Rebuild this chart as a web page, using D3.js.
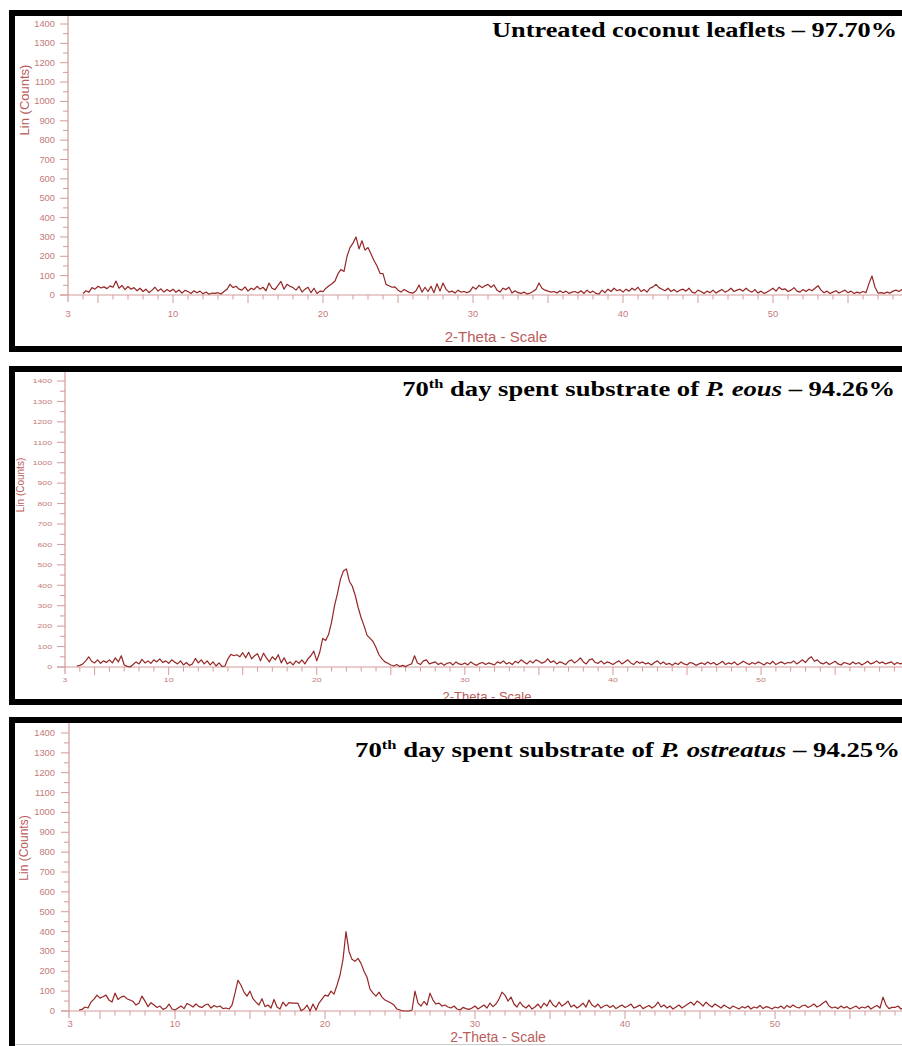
<!DOCTYPE html>
<html>
<head>
<meta charset="utf-8">
<script src="https://cdn.jsdelivr.net/npm/d3@7"></script>
<style>
  body { margin: 0; background: #fff; }
  svg { display: block; }
</style>
</head>
<body>
<script>
// scan: 2-theta from 3.6 deg, 0.2 deg per reading
var scanStart = 3.6;
var scanStep = 0.2;

// Untreated coconut leaflets
var untreatedCounts = [null, null,
  8, 22, 15, 38, 30, 45, 36, 42, 33, 47,
  40, 72, 35, 50, 28, 44, 30, 38, 22, 35,
  18, 30, 12, 25, 40, 20, 32, 15, 28, 18,
  30, 14, 26, 10, 24, 18, 8, 22, 12, 20,
  6, 15, 4, 10, 8, 12, 5, 18, 30, 55,
  38, 45, 30, 25, 42, 20, 35, 28, 45, 30,
  40, 22, 62, 35, 28, 50, 70, 30, 55, 45,
  38, 25, 45, 15, 30, 40, 12, 35, 8, 20,
  17, 35, 48, 58, 72, 110, 132, 122, 200, 245,
  268, 300, 238, 280, 232, 245, 212, 178, 150, 112,
  110, 55, 48, 40, 42, 25, 15, 28, 20, 12,
  10, 22, 52, 15, 40, 18, 45, 12, 58, 20,
  62, 30, 15, 20, 10, 25, 15, 18, 12, 20,
  42, 30, 50, 38, 48, 55, 40, 52, 25, 15,
  35, 28, 40, 10, 22, 12, 8, 15, 5, 10,
  18, 30, 62, 35, 25, 20, 15, 18, 10, 22,
  12, 20, 8, 15, 18, 10, 22, 8, 25, 12,
  20, 8, 5, 25, 12, 30, 18, 35, 22, 28,
  15, 30, 20, 35, 25, 40, 18, 28, 15, 35,
  42, 55, 38, 30, 22, 35, 18, 28, 15, 25,
  30, 20, 35, 15, 10, 25, 18, 8, 20, 12,
  25, 10, 20, 28, 15, 22, 35, 18, 25, 30,
  20, 35, 22, 15, 28, 10, 20, 8, 15, 25,
  35, 20, 40, 28, 32, 18, 25, 38, 20, 15,
  28, 18, 30, 22, 35, 48, 25, 12, 20, 8,
  15, 22, 10, 18, 25, 12, 20, 8, 15, 10,
  18, 12, 60, 98, 40, 10, 12, 8, 15, 10,
  20, 25, 18, 28, 15, 22, 12, 20, 18
];

// 70th day spent substrate of P. eous
var eousCounts = [null, 5,
  8, 15, 30, 50, 28, 20, 35, 18, 30, 22,
  35, 20, 45, 25, 55, 10, 3, 0, 12, 25,
  15, 37, 20, 30, 18, 35, 25, 40, 22, 30,
  18, 35, 25, 15, 30, 10, 22, 8, 15, 42,
  20, 35, 15, 30, 10, 25, 5, 20, 3, 5,
  40, 62, 55, 60, 50, 70, 45, 72, 40, 55,
  65, 30, 68, 45, 25, 50, 35, 60, 20, 45,
  15, 25, 10, 30, 18, 35, 15, 40, 55, 78,
  30, 72, 140, 130, 160, 220, 300, 360, 430, 470,
  480, 420, 395, 350, 290, 240, 200, 155, 140, 125,
  95, 60, 40, 25, 18, 10, 5, 12, 3, 8,
  2, 10, 15, 55, 20, 12, 30, 35, 15, 20,
  25, 12, 20, 8, 18, 22, 10, 25, 15, 12,
  20, 10, 25, 15, 8, 18, 22, 12, 20, 15,
  10, 25, 18, 30, 15, 22, 12, 28, 20, 35,
  25, 15, 30, 20, 35, 28, 18, 25, 40, 22,
  30, 15, 25, 20, 12, 28, 35, 20, 30, 45,
  25, 15, 35, 40, 22, 18, 30, 15, 25, 20,
  12, 22, 30, 15, 25, 35, 20, 12, 28, 18,
  25, 15, 20, 10, 22, 30, 15, 25, 12, 18,
  8, 20, 12, 25, 15, 10, 22, 18, 8, 15,
  20, 12, 25, 15, 22, 10, 18, 28, 12, 20,
  15, 25, 10, 18, 28, 20, 12, 22, 15, 25,
  18, 10, 22, 15, 28, 12, 20, 25, 15, 22,
  20, 30, 15, 25, 35, 22, 40, 50, 28, 35,
  20, 15, 25, 12, 20, 28, 15, 10, 22, 18,
  12, 25, 15, 22, 10, 18, 28, 15, 20, 30,
  18, 25, 15, 20, 25, 12, 22, 15, 20
];

// 70th day spent substrate of P. ostreatus
var ostreatusCounts = [5, 8,
  20, 15, 45, 60, 80, 65, 72, 80, 55, 45,
  90, 58, 70, 75, 62, 55, 48, 30, 40, 75,
  50, 22, 42, 30, 18, 25, 8, 15, 35, 10,
  5, 15, 25, 12, 38, 30, 20, 35, 22, 18,
  30, 35, 15, 28, 20, 25, 12, 15, 10, 30,
  90, 155, 130, 95, 75, 100, 62, 45, 30, 62,
  22, 30, 15, 58, 20, 10, 45, 25, 42, 40,
  40, 38, 2, 10, 30, 0, 35, 5, 40, 60,
  80, 75, 100, 85, 130, 180, 260, 400, 300, 260,
  250, 265, 240, 200, 170, 110, 90, 75, 95, 70,
  55, 48, 40, 30, 10, 5, 0, 0, 0, 5,
  100, 40, 25, 48, 30, 90, 55, 35, 40, 25,
  30, 20, 15, 25, 10, 5, 18, 12, 8, 15,
  25, 10, 20, 30, 15, 40, 22, 35, 60, 95,
  80, 50, 70, 35, 20, 45, 25, 15, 30, 10,
  20, 35, 15, 40, 25, 55, 30, 20, 45, 25,
  35, 50, 20, 30, 15, 25, 40, 20, 55, 30,
  20, 35, 15, 25, 30, 18, 28, 12, 22, 30,
  18, 25, 35, 15, 22, 30, 12, 20, 28, 15,
  25, 45, 20, 30, 15, 25, 10, 20, 30, 15,
  25, 35, 45, 30, 50, 40, 25, 45, 30, 20,
  35, 25, 15, 30, 20, 12, 25, 18, 10, 22,
  15, 25, 10, 20, 15, 28, 12, 22, 18, 10,
  20, 15, 25, 12, 28, 18, 30, 20, 15, 25,
  30, 18, 25, 35, 20, 28, 40, 50, 25, 15,
  20, 12, 25, 15, 22, 10, 18, 25, 12, 20,
  15, 25, 10, 20, 28, 15, 70, 30, 12, 18,
  18, 25, 10, 20, 15, 22, 12, 18, 20
];

var seriesCounts = [untreatedCounts, eousCounts, ostreatusCounts];

// titles: [text, style] pieces
var titleParts = [
  [["Untreated coconut leaflets – 97.70%", ""]],
  [["70", ""], ["th", "sup"], [" day spent substrate of ", ""], ["P. eous", "it"], [" – 94.26%", ""]],
  [["70", ""], ["th", "sup"], [" day spent substrate of ", ""], ["P. ostreatus", "it"], [" – 94.25%", ""]]
];

var yTickLabels = [0, 100, 200, 300, 400, 500, 600, 700, 800, 900, 1000, 1100, 1200, 1300, 1400];
var xTickLabels = [3, 10, 20, 30, 40, 50];
var yAxisTitle = "Lin (Counts)";
var xAxisTitle = "2-Theta - Scale";

// page layout of the three stacked panels
var panels = [
  {top: 10, bottom: 352, axisX: 68, x3: 68, degPx: 15, y0: 295, y1400: 24,
   lblX: 55, lblFont: 8.5, lblSx: 1.1, xLblY: 317, linX: 29, linY: 100, linFont: 13,
   xTitleX: 496, xTitleY: 342, xTitleFont: 15, titleY: 37, titleRight: 897, titleW: 405},
  {top: 366, bottom: 705, axisX: 65, x3: 65, degPx: 14.81, y0: 667, y1400: 381,
   lblX: 52, lblFont: 6.2, lblSx: 1.4, xLblY: 682, linX: 24, linY: 485, linFont: 10,
   xTitleX: 487, xTitleY: 701, xTitleFont: 13, titleY: 396, titleRight: 895, titleW: 493},
  {top: 717, bottom: 1054, axisX: 69, x3: 70, degPx: 15, y0: 1011, y1400: 733,
   lblX: 55, lblFont: 8.5, lblSx: 1.1, xLblY: 1027, linX: 28, linY: 848, linFont: 12,
   xTitleX: 498, xTitleY: 1042, xTitleFont: 14, titleY: 757, titleRight: 900, titleW: 545}
];

var width = 902, height = 1046;
var axisColor = "#d49a9a";
var labelColor = "#c47a7a";
var titleColor = "#bb5c5c";
var curveColor = "#962626";

var svg = d3.select("body").append("svg")
    .attr("width", width)
    .attr("height", height);

panels.forEach(function(p, k) {

    var g = svg.append("g").attr("class", "panel-" + k);

    var x = d3.scaleLinear()
        .domain([3, 3 + (width - p.x3) / p.degPx])
        .range([p.x3, width]);

    var y = d3.scaleLinear()
        .domain([0, 1400])
        .range([p.y0, p.y1400]);

    // y axis
    g.append("line")
        .attr("x1", p.axisX).attr("x2", p.axisX)
        .attr("y1", p.top + 6).attr("y2", p.y0 + 7)
        .attr("stroke", axisColor).attr("stroke-width", 1.2);

    var yMinor = d3.range(50, 1400, 100);
    g.selectAll(".ymin").data(yMinor).enter().append("line")
        .attr("x1", p.axisX - 5).attr("x2", p.axisX)
        .attr("y1", function(d) { return y(d); })
        .attr("y2", function(d) { return y(d); })
        .attr("stroke", axisColor);

    g.selectAll(".ymaj").data(yTickLabels).enter().append("line")
        .attr("x1", p.axisX - 8).attr("x2", p.axisX)
        .attr("y1", function(d) { return y(d); })
        .attr("y2", function(d) { return y(d); })
        .attr("stroke", axisColor);

    g.selectAll(".ylbl").data(yTickLabels).enter().append("text")
        .attr("transform", function(d) {
            return "translate(" + p.lblX + "," + y(d) + ") scale(" + p.lblSx + ",1)";
        })
        .attr("dy", "0.36em")
        .attr("text-anchor", "end")
        .style("font-family", "'Liberation Sans', Arial, sans-serif")
        .style("font-size", p.lblFont + "px")
        .style("fill", labelColor)
        .text(function(d) { return d; });

    g.append("text")
        .attr("transform", "translate(" + p.linX + "," + p.linY + ") rotate(-90)")
        .attr("text-anchor", "middle")
        .style("font-family", "'Liberation Sans', Arial, sans-serif")
        .style("font-size", p.linFont + "px")
        .style("fill", titleColor)
        .text(yAxisTitle);

    // x axis
    g.append("line")
        .attr("x1", p.axisX - 8).attr("x2", width)
        .attr("y1", p.y0).attr("y2", p.y0)
        .attr("stroke", axisColor).attr("stroke-width", 1.2);

    var xTicks = d3.range(4, Math.floor(x.domain()[1]) + 1);
    g.selectAll(".xt").data(xTicks).enter().append("line")
        .attr("x1", function(d) { return x(d); })
        .attr("x2", function(d) { return x(d); })
        .attr("y1", p.y0)
        .attr("y2", function(d) { return p.y0 + (d % 5 === 0 ? 8 : 4.5); })
        .attr("stroke", axisColor);

    g.selectAll(".xlbl").data(xTickLabels).enter().append("text")
        .attr("transform", function(d) {
            return "translate(" + x(d) + "," + p.xLblY + ") scale(" + p.lblSx + ",1)";
        })
        .attr("text-anchor", "middle")
        .style("font-family", "'Liberation Sans', Arial, sans-serif")
        .style("font-size", p.lblFont + "px")
        .style("fill", labelColor)
        .text(function(d) { return d; });

    g.append("text")
        .attr("x", p.xTitleX).attr("y", p.xTitleY)
        .attr("text-anchor", "middle")
        .style("font-family", "'Liberation Sans', Arial, sans-serif")
        .style("font-size", p.xTitleFont + "px")
        .style("fill", titleColor)
        .text(xAxisTitle);

    // pattern
    var line = d3.line()
        .defined(function(d) { return d != null; })
        .x(function(d, i) { return x(scanStart + i * scanStep); })
        .y(function(d) { return y(d); });

    g.append("path")
        .datum(seriesCounts[k])
        .attr("d", line)
        .attr("fill", "none")
        .attr("stroke", curveColor)
        .attr("stroke-width", 1.2)
        .attr("stroke-linejoin", "round");

    // title, stretched to the width it has in the figure
    var title = g.append("text")
        .attr("text-anchor", "end")
        .style("font-family", "'Liberation Serif', 'Times New Roman', serif")
        .style("font-weight", "bold")
        .style("font-size", "21px")
        .style("fill", "#000");

    var shift = 0;
    titleParts[k].forEach(function(part) {
        var ts = title.append("tspan").text(part[0]);
        if (part[1] === "sup") {
            ts.attr("dy", -8).style("font-size", "13px");
            shift = 8;
        } else {
            if (shift) { ts.attr("dy", shift); shift = 0; }
            if (part[1] === "it") ts.style("font-style", "italic");
        }
    });

    var w = title.node().getComputedTextLength();
    title.attr("transform", "translate(" + p.titleRight + "," + p.titleY + ") scale(" + (p.titleW / w) + ",1)");

    // frame
    g.append("rect")
        .attr("x", 12).attr("y", p.top + 3)
        .attr("width", width + 20).attr("height", p.bottom - p.top - 6)
        .attr("fill", "none")
        .attr("stroke", "#000")
        .attr("stroke-width", 6);
});

// thin scan edge at the foot of the page
svg.append("line")
    .attr("x1", 15).attr("x2", width)
    .attr("y1", 1044.5).attr("y2", 1044.5)
    .attr("stroke", "#ccc");
</script>
</body>
</html>
